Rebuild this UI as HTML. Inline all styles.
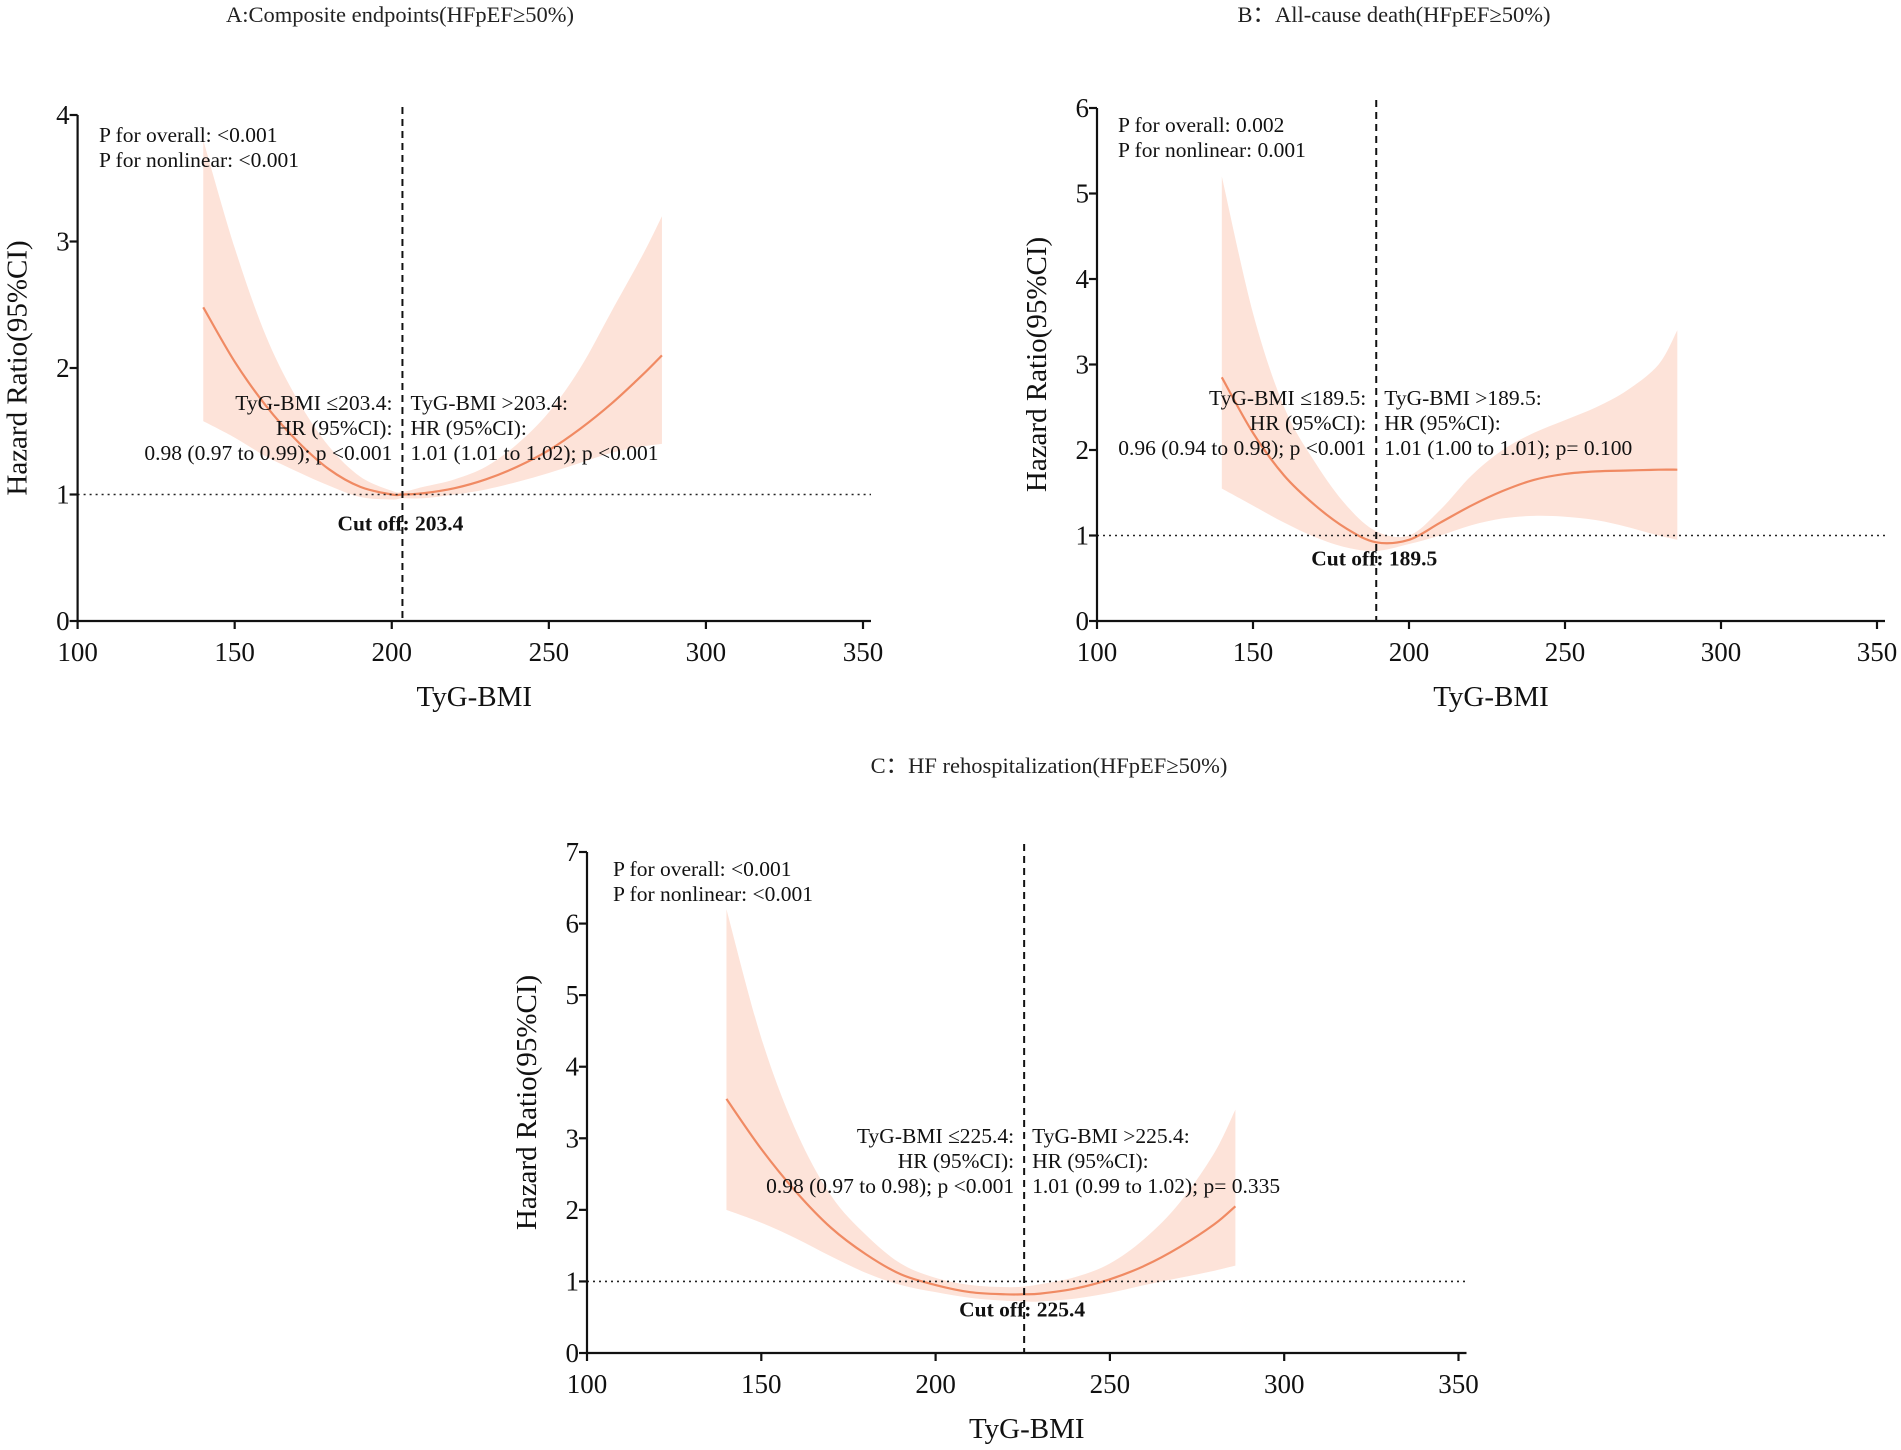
<!DOCTYPE html>
<html><head><meta charset="utf-8">
<style>
html,body{margin:0;padding:0;background:#fff;}
svg{display:block;font-family:"Liberation Serif","DejaVu Serif",serif;}
</style></head>
<body>
<svg id="fig" width="1901" height="1450" viewBox="0 0 1901 1450" xmlns="http://www.w3.org/2000/svg"></svg>
<script>
const xTicks = [100,150,200,250,300,350];
const aX = [140,150,160,170,180,190,200,203.4,210,220,230,240,250,260,270,280,286];
const aHR = [2.48,2.05,1.7,1.42,1.2,1.06,1.0,1.0,1.01,1.05,1.12,1.22,1.35,1.52,1.72,1.95,2.1];
const aLo = [1.58,1.45,1.3,1.18,1.07,0.98,0.96,0.97,0.97,1.0,1.04,1.1,1.17,1.25,1.33,1.38,1.4];
const aHi = [3.8,2.95,2.25,1.75,1.38,1.14,1.03,1.02,1.06,1.12,1.22,1.4,1.65,2.0,2.45,2.9,3.2];
const aYTicks = [0,1,2,3,4];
const bX = [140,150,160,170,180,189.5,200,210,220,230,240,250,260,270,280,286];
const bHR = [2.85,2.2,1.7,1.35,1.08,0.92,0.95,1.15,1.35,1.52,1.65,1.72,1.75,1.76,1.77,1.77];
const bLo = [1.55,1.35,1.15,0.98,0.86,0.82,0.9,1.0,1.12,1.2,1.23,1.22,1.18,1.1,1.0,0.95];
const bHi = [5.2,3.6,2.5,1.85,1.35,1.05,1.0,1.3,1.7,2.0,2.2,2.35,2.5,2.7,3.0,3.4];
const bYTicks = [0,1,2,3,4,5,6];
const cX = [140,150,160,170,180,190,200,210,220,225.4,230,240,250,260,270,280,286];
const cHR = [3.55,2.85,2.25,1.75,1.38,1.1,0.95,0.85,0.82,0.82,0.83,0.9,1.03,1.22,1.48,1.8,2.05];
const cLo = [2.0,1.82,1.6,1.35,1.12,0.95,0.85,0.77,0.73,0.72,0.72,0.76,0.84,0.95,1.05,1.15,1.22];
const cHi = [6.2,4.4,3.1,2.2,1.65,1.25,1.05,0.95,0.92,0.93,0.96,1.06,1.25,1.6,2.1,2.8,3.4];
const cYTicks = [0,1,2,3,4,5,6,7];

const NS = "http://www.w3.org/2000/svg";
const svg = document.getElementById('fig');
function el(tag, attrs, parent, txt){
  const e = document.createElementNS(NS, tag);
  for (const k in attrs) e.setAttribute(k, attrs[k]);
  if (txt !== undefined) e.textContent = txt;
  (parent||svg).appendChild(e);
  return e;
}
function smooth(pts){
  let d = 'M'+pts[0][0]+','+pts[0][1];
  for (let i=0;i<pts.length-1;i++){
    const p0=pts[Math.max(0,i-1)], p1=pts[i], p2=pts[i+1], p3=pts[Math.min(pts.length-1,i+2)];
    const c1=[p1[0]+(p2[0]-p0[0])/6, p1[1]+(p2[1]-p0[1])/6];
    const c2=[p2[0]-(p3[0]-p1[0])/6, p2[1]-(p3[1]-p1[1])/6];
    d += ' C'+c1[0]+','+c1[1]+' '+c2[0]+','+c2[1]+' '+p2[0]+','+p2[1];
  }
  return d;
}
function panel(cfg){
  const g = el('g',{});
  
  
  const sx = v => cfg.x0 + (v-100)/250*(cfg.x1-cfg.x0);
  const yMax = cfg.yTicks[cfg.yTicks.length-1];
  const sy = v => cfg.y0 - v/yMax*(cfg.y0-cfg.yTop);
  const up = cfg.xs.map((x,i)=>[sx(x),sy(cfg.hi[i])]);
  const lo = cfg.xs.map((x,i)=>[sx(x),sy(cfg.lo[i])]).reverse();
  const band = el('path',{d: smooth(up)+' L'+lo[0][0]+','+lo[0][1]+' '+smooth(lo).slice(1)+' Z', fill:'#fde3d9', stroke:'none'}, g);
  
  
  const line = el('path',{d: smooth(cfg.xs.map((x,i)=>[sx(x),sy(cfg.hr[i])])), fill:'none', stroke:'#f08a63', 'stroke-width':2.2}, g);
  
  
  const ref = el('line',{x1:cfg.x0, x2:cfg.x1+8, y1:sy(1), y2:sy(1), stroke:'#222', 'stroke-width':1.6, 'stroke-dasharray':'2 4'}, g);
  
  
  const cut = el('line',{x1:sx(cfg.cut), x2:sx(cfg.cut), y1:cfg.yTop-8, y2:cfg.y0, stroke:'#111', 'stroke-width':2, 'stroke-dasharray':'7 5'}, g);
  
  
  const ax = el('path',{d:'M'+cfg.x0+','+(cfg.yTop)+' L'+cfg.x0+','+cfg.y0+' L'+(cfg.x1+8)+','+cfg.y0, fill:'none', stroke:'#111','stroke-width':2.2}, g);
  
  
  xTicks.forEach(t=>{
    el('line',{x1:sx(t),x2:sx(t),y1:cfg.y0,y2:cfg.y0+8,stroke:'#111','stroke-width':2.2},g);
    const tl = el('text',{x:sx(t),y:cfg.y0+40,'text-anchor':'middle','font-size':27,fill:'#111'},g,String(t));
    
    
  });
  cfg.yTicks.forEach(t=>{
    el('line',{x1:cfg.x0-8,x2:cfg.x0,y1:sy(t),y2:sy(t),stroke:'#111','stroke-width':2.2},g);
    const tl = el('text',{x:cfg.x0-8,y:sy(t)+9,'text-anchor':'end','font-size':27,fill:'#111'},g,String(t));
    
    
  });
  const xt = el('text',{x:(cfg.x0+cfg.x1)/2+4,y:cfg.y0+85,'text-anchor':'middle','font-size':29,fill:'#111'},g,'TyG-BMI');
  
  
  const yc = (cfg.y0+cfg.yTop)/2;
  const yt = el('text',{x:0,y:0,transform:'translate('+(cfg.x0-51)+','+yc+') rotate(-90)','text-anchor':'middle','font-size':29,fill:'#111'},g,'Hazard Ratio(95%CI)');
  
  
  const tt = el('text',{x:cfg.tx,y:cfg.ty,'text-anchor':'middle','font-size':22.5,fill:'#222'},g,cfg.title);
  
  
  cfg.p.forEach((s,i)=>{
    const t = el('text',{x:cfg.px,y:cfg.py+i*25,'font-size':21.5,fill:'#111','xml:space':'preserve'},g,s);
    
    
  });
  cfg.left.forEach((s,i)=>{
    const t = el('text',{x:sx(cfg.cut)-10,y:cfg.ay+i*25,'text-anchor':'end','font-size':21.5,fill:'#111'},g,s);
    
    
  });
  cfg.right.forEach((s,i)=>{
    const t = el('text',{x:sx(cfg.cut)+8,y:cfg.ay+i*25,'font-size':21.5,fill:'#111'},g,s);
    
    
  });
  const co = el('text',{x:sx(cfg.cut)-2,y:sy(1)+cfg.coDy,'text-anchor':'middle','font-size':21.5,'font-weight':'bold',fill:'#111'},g,'Cut off: '+cfg.cut);
  
  
}
panel({name:'panel-a', x0:77.6, x1:863, y0:621, yTop:115, yTicks:aYTicks, xs:aX, hr:aHR, lo:aLo, hi:aHi, cut:203.4,
  title:'A:Composite endpoints(HFpEF≥50%)', tx:400, ty:22,
  p:['P for overall:  <0.001','P for nonlinear:  <0.001'], px:99, py:142,
  left:['TyG-BMI ≤203.4:','HR (95%CI):','0.98 (0.97 to 0.99); p <0.001'],
  right:['TyG-BMI >203.4:','HR (95%CI):','1.01 (1.01 to 1.02); p <0.001'], ay:410, coDy:36});
panel({name:'panel-b', x0:1097, x1:1877, y0:621, yTop:108, yTicks:bYTicks, xs:bX, hr:bHR, lo:bLo, hi:bHi, cut:189.5,
  title:'B：All-cause death(HFpEF≥50%)', tx:1394, ty:22,
  p:['P for overall: 0.002','P for nonlinear: 0.001'], px:1118, py:132,
  left:['TyG-BMI ≤189.5:','HR (95%CI):','0.96 (0.94 to 0.98); p <0.001'],
  right:['TyG-BMI >189.5:','HR (95%CI):','1.01 (1.00 to 1.01); p= 0.100'], ay:405, coDy:30});
panel({name:'panel-c', x0:587, x1:1458.5, y0:1353, yTop:852, yTicks:cYTicks, xs:cX, hr:cHR, lo:cLo, hi:cHi, cut:225.4,
  title:'C：HF rehospitalization(HFpEF≥50%)', tx:1049, ty:773,
  p:['P for overall:  <0.001','P for nonlinear:  <0.001'], px:613, py:876,
  left:['TyG-BMI ≤225.4:','HR (95%CI):','0.98 (0.97 to 0.98); p <0.001'],
  right:['TyG-BMI >225.4:','HR (95%CI):','1.01 (0.99 to 1.02); p= 0.335'], ay:1143, coDy:35});
</script>
</body></html>
